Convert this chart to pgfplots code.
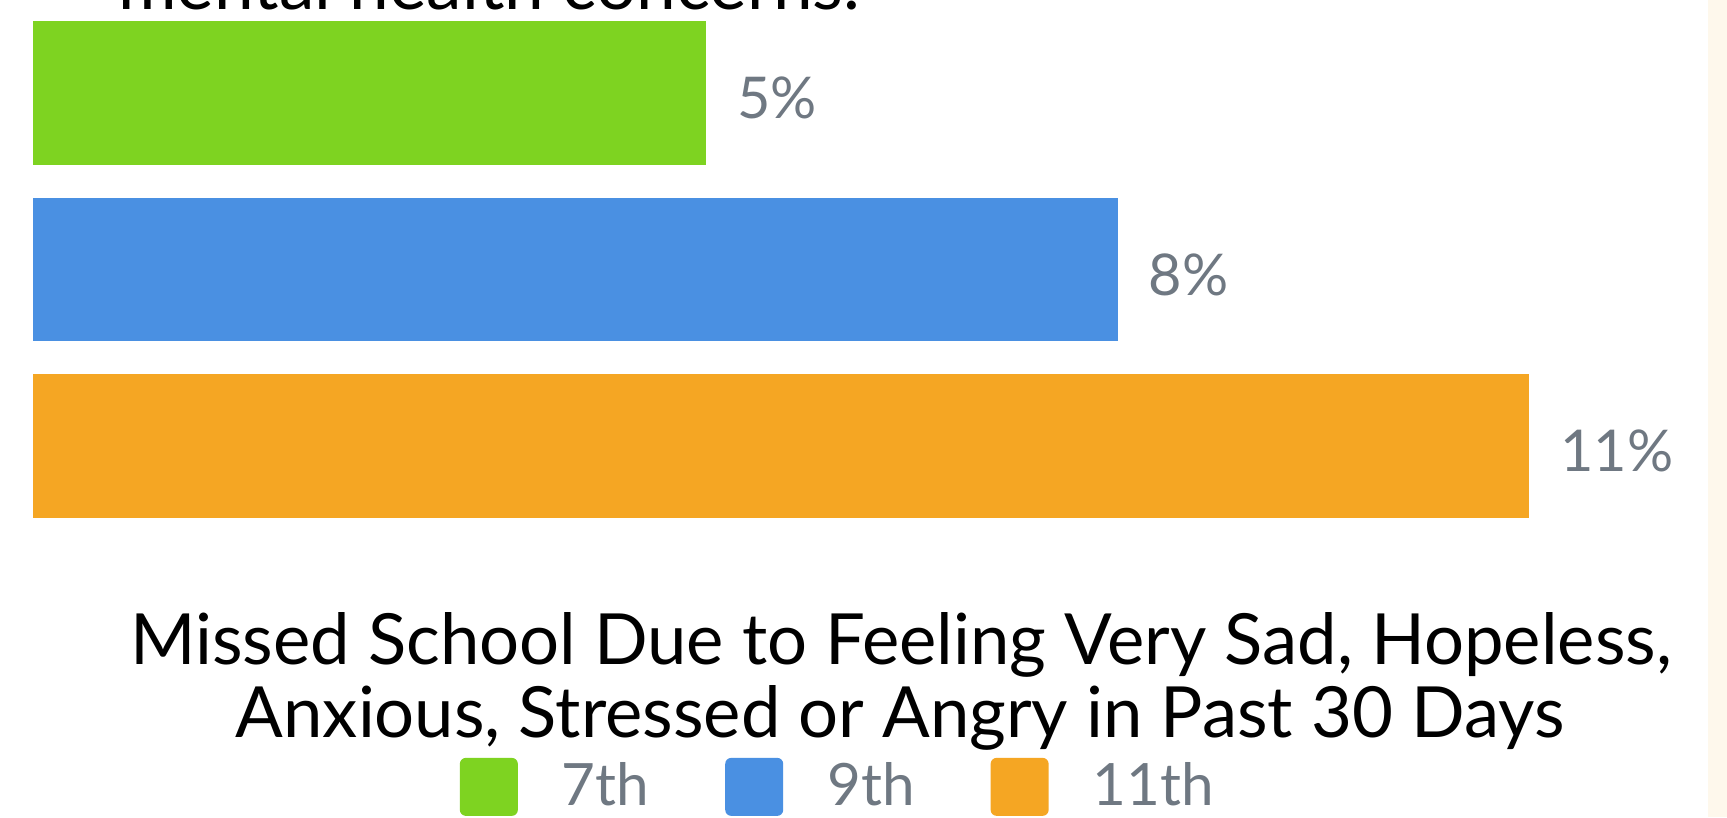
\documentclass[border=0pt]{standalone}
\usepackage{fontspec}
\setmainfont{Lato}
\usepackage{pgfplots}
\pgfplotsset{compat=1.18}

\definecolor{cGreen}{HTML}{7ED321}
\definecolor{cBlue}{HTML}{4A90E2}
\definecolor{cOrange}{HTML}{F5A623}
\definecolor{cLabel}{HTML}{6F7882}
\definecolor{cCream}{HTML}{FEF8EC}

\begin{document}
\begin{tikzpicture}[x=0.25pt, y=0.25pt]
\useasboundingbox (0,0) rectangle (1727,817);
\clip (0,0) rectangle (1727,817);
\fill[white] (0,0) rectangle (1727,817);
\fill[cCream] (1708,0) rectangle (1727,817);

% bottom of the heading line above the chart (cut off in the reference)
\node[anchor=base east, inner sep=0pt, font=\fontsize{17.8}{18}\selectfont]
  at (861,808) {mental health concerns.};

\begin{axis}[
    at={(8.25pt,70.69pt)}, anchor=south west,
    scale only axis,
    width=374.1pt, height=132.4pt,
    xbar, bar shift=0pt, bar width=0.8136,
    xmin=0.09, xmax=11,
    ymin=-0.5, ymax=2.5,
    axis lines=none, ticks=none,
    /pgf/number format/assume math mode=true,
    point meta=x,
    nodes near coords={\pgfmathprintnumber{\pgfplotspointmeta}\%},
    every node near coord/.append style={anchor=west, inner sep=0pt, xshift=7.5pt,
        yshift=-1.3pt, text=cLabel, font=\fontsize{14.4}{16}\selectfont},
    legend columns=3,
    legend style={draw=none, fill=none, at={(0.5372,-0.477)}, anchor=center,
        font=\fontsize{14.6}{16}\selectfont, text=cLabel,
        nodes={inner sep=0pt},
        /tikz/every odd column/.append style={column sep=11pt},
        /tikz/every even column/.append style={column sep=19pt}},
    legend image code/.code={\fill[#1, rounded corners=1.5pt] (0pt,-7.25pt) rectangle (14.5pt,7.25pt);},
]
\addplot[fill=cGreen, draw=none] coordinates {(5,2)};
\addplot[fill=cBlue, draw=none] coordinates {(8,1)};
\addplot[fill=cOrange, draw=none] coordinates {(11,0)};
\legend{7th, 9th, 11th}
\end{axis}

\node[anchor=base, inner sep=0pt, font=\fontsize{17.65}{18}\selectfont]
  at (901,153) {Missed School Due to Feeling Very Sad, Hopeless,};
\node[anchor=base, inner sep=0pt, font=\fontsize{17.65}{18}\selectfont]
  at (900,80) {Anxious, Stressed or Angry in Past 30 Days};
\end{tikzpicture}
\end{document}
